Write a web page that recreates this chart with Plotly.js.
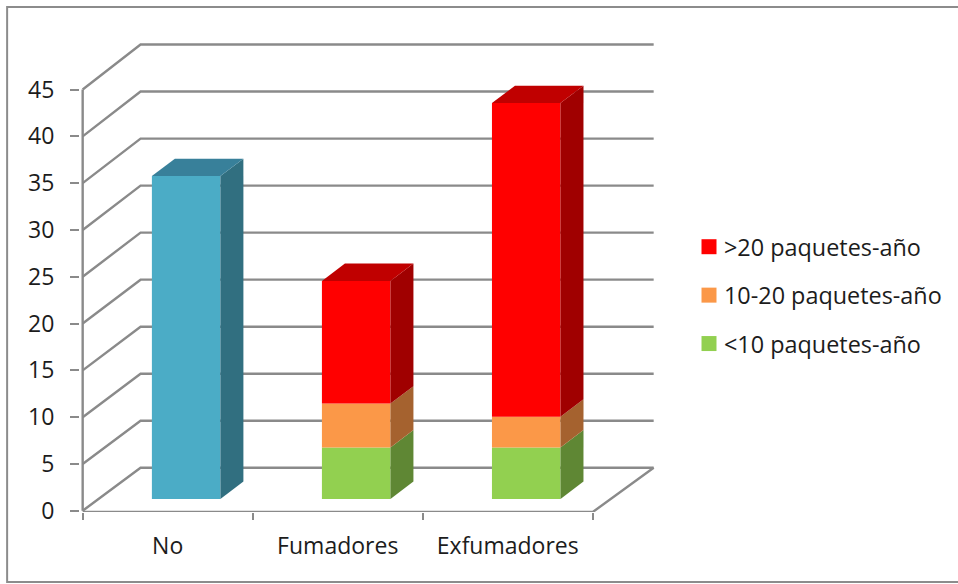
<!DOCTYPE html>
<html>
<head>
<meta charset="utf-8">
<script src="https://cdn.plot.ly/plotly-3.0.1.min.js"></script>
<style>html,body{margin:0;padding:0;background:#fff}#chart{width:958px;height:584px}</style>
</head>
<body>
<div id="chart"></div>
<script>
// Smoking history by group, stacked by pack-years
const categories = ['No', 'Fumadores', 'Exfumadores'];
const noFuma = [34.5, null, null];
const menos10 = [null, 5.5, 5.5];
const entre10y20 = [null, 4.7, 3.3];
const mas20 = [null, 13.1, 33.5];
const yTicks = [0, 5, 10, 15, 20, 25, 30, 35, 40, 45];
const xBoundaries = [-0.5, 0.5, 1.5, 2.5];

// Oblique projection: depth 0 is the front edge of the floor, depth 1 the back wall
const DEPTH_X = 0.3405, DEPTH_Y = 4.7;
const px = (cat, depth) => cat + DEPTH_X * depth;
const py = (val, depth) => val + DEPTH_Y * depth;

// The back wall opens out slightly, as in a perspective view
const WALL_FLARE_X = 0.0176, WALL_FLARE_Y = 0.0048;
const wallX = cat => px(cat, 1) + (cat > 0 ? WALL_FLARE_X : 0);
const wallY = val => py(val, 1) + (val - 22.5) * WALL_FLARE_Y;

const BAR_WIDTH = 0.403, BAR_NEAR = 0.266, BAR_FAR = 0.663, BAR_SHIFT = 0.018;
const GRID = '#8a8a8a', TEXT = '#1c1c1c';
const FONT = '"Open Sans", Lato, sans-serif';
const FONT_SIZE = 23;

const segments = [
  {name: 'No', values: noFuma, front: '#4bacc6', side: '#316f80', top: '#38809a', below: null},
  {name: '<10 paquetes-año', values: menos10, front: '#92d050', side: '#5f8734', top: '#76a840', below: null},
  {name: '10-20 paquetes-año', values: entre10y20, front: '#fb9848', side: '#a5622f', top: '#c87a38', below: menos10},
  {name: '>20 paquetes-año', values: mas20, front: '#ff0000', side: '#a00000', top: '#c00000', below: [menos10, entre10y20]}
];

function baseOf(seg, i) {
  if (!seg.below) return 0;
  const list = Array.isArray(seg.below[0]) ? seg.below : [seg.below];
  return list.reduce((s, arr) => s + (arr[i] || 0), 0);
}

const traces = [];

// Front faces: one bar per value
segments.forEach(seg => {
  traces.push({
    type: 'bar',
    x: categories.map((_, i) => px(i, BAR_NEAR) + BAR_SHIFT),
    y: seg.values,
    base: seg.values.map((v, i) => py(baseOf(seg, i), BAR_NEAR)),
    width: BAR_WIDTH,
    marker: {color: seg.front, line: {width: 0}},
    showlegend: false,
    hoverinfo: 'skip'
  });
});

// Side and top faces of each block, projected from the same values
function face(xs, ys, color) {
  traces.push({
    type: 'scatter', mode: 'lines', x: xs, y: ys, fill: 'toself', fillcolor: color,
    line: {width: 0}, showlegend: false, hoverinfo: 'skip', cliponaxis: false
  });
}
segments.forEach(seg => {
  seg.values.forEach((v, i) => {
    if (v === null) return;
    const b = baseOf(seg, i), t = b + v;
    const xR = i + BAR_SHIFT + BAR_WIDTH / 2, xL = i + BAR_SHIFT - BAR_WIDTH / 2;
    face([px(xR, BAR_NEAR), px(xR, BAR_FAR), px(xR, BAR_FAR), px(xR, BAR_NEAR)],
         [py(b, BAR_NEAR), py(b, BAR_FAR), py(t, BAR_FAR), py(t, BAR_NEAR)], seg.side);
    const isTop = segments.filter(o => o.values[i] !== null).pop() === seg;
    if (isTop) {
      face([px(xL, BAR_NEAR), px(xL, BAR_FAR), px(xR, BAR_FAR), px(xR, BAR_NEAR)],
           [py(t, BAR_NEAR), py(t, BAR_FAR), py(t, BAR_FAR), py(t, BAR_NEAR)], seg.top);
    }
  });
});

// Legend entries, top to bottom
[segments[3], segments[2], segments[1]].forEach(seg => {
  traces.push({
    type: 'scatter', mode: 'markers', x: [null], y: [null], name: seg.name,
    legendgroup: seg.name, marker: {symbol: 'square', size: 15, color: seg.front},
    hoverinfo: 'skip'
  });
});

// Wall and floor lines
const xL = xBoundaries[0], xR = xBoundaries[xBoundaries.length - 1];
const shapes = [];
function path(points) {
  shapes.push({
    type: 'path', xref: 'x', yref: 'y', layer: 'below',
    path: points.map((p, i) => (i ? 'L' : 'M') + p[0] + ',' + p[1]).join(' '),
    line: {color: GRID, width: 2.4}
  });
}
yTicks.forEach(v => {
  path([[px(xL, 0), py(v, 0)], [wallX(xL), wallY(v)], [wallX(xR), wallY(v)]]);
});
path([[px(xL, 0), py(0, 0)], [px(xL, 0), py(45, 0)]]);
path([[px(xL, 0), -0.13], [px(xR, 0), -0.13], [wallX(xR), wallY(0)]]);

// Outer frame of the chart area, in paper units
const M = {l: 80, r: 300, t: 40, b: 72};
const W = 958 - M.l - M.r, H = 584 - M.t - M.b;
const fx = v => (v - M.l) / W, fy = v => 1 - (v - M.t) / H;
shapes.push({
  type: 'rect', xref: 'paper', yref: 'paper', layer: 'below',
  x0: fx(7), x1: fx(970), y0: fy(582), y1: fy(7),
  line: {color: '#8c8c8c', width: 2}
});

const layout = {
  width: 958, height: 584,
  margin: M,
  paper_bgcolor: '#fff', plot_bgcolor: 'rgba(0,0,0,0)',
  barmode: 'overlay',
  font: {family: FONT, size: FONT_SIZE, color: TEXT},
  shapes: shapes,
  xaxis: {
    range: [-0.5157, 2.8777], showgrid: false, zeroline: false, showline: false,
    tickmode: 'array', tickvals: [0, 1, 2], ticktext: categories, ticks: '',
    ticklabelstandoff: 18, tickfont: {family: FONT, size: FONT_SIZE, color: TEXT},
    minor: {tickmode: 'array', tickvals: xBoundaries, ticks: 'outside', ticklen: 7, tickwidth: 2, tickcolor: GRID, showgrid: false}
  },
  yaxis: {
    range: [-0.13, 50.29], showgrid: false, zeroline: false, showline: false,
    tickmode: 'array', tickvals: yTicks, ticks: 'outside', ticklen: 9, tickwidth: 2, tickcolor: GRID,
    ticklabelstandoff: 11, tickfont: {family: FONT, size: FONT_SIZE, color: TEXT}
  },
  legend: {
    x: fx(684), y: fy(225), xanchor: 'left', yanchor: 'top',
    traceorder: 'grouped', tracegroupgap: 15, bgcolor: 'rgba(0,0,0,0)',
    font: {family: FONT, size: 23.4, color: TEXT}
  }
};

Plotly.newPlot('chart', traces, layout, {displayModeBar: false, staticPlot: true}).then(gd => {
  // Bring the legend swatches closer to their labels
  gd.querySelectorAll('.legendpoints').forEach(g => g.setAttribute('transform', 'translate(5,0)'));
});
</script>
</body>
</html>
